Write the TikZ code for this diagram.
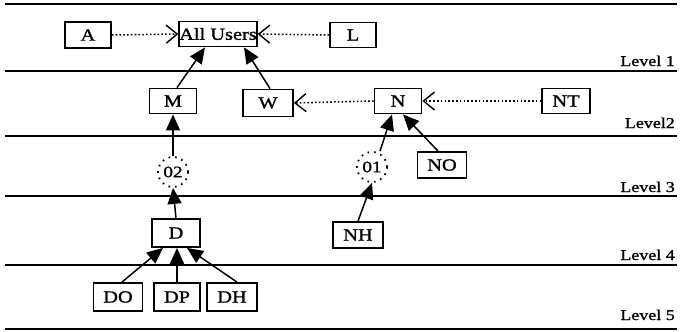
\documentclass[tikz,border=0pt]{standalone}
\usepackage{fontspec}
\setmainfont{Liberation Serif}
\newfontfamily\widefont[FakeStretch=1.2,FakeBold=1.2]{Liberation Serif}
\usetikzlibrary{arrows.meta}
\begin{document}
\begin{tikzpicture}[x=1pt,y=-1pt,
  box/.style={draw,line width=1.8pt,inner sep=0pt,font=\widefont\fontsize{17}{19}\selectfont},
  circ/.style={circle,draw,line width=1.8pt,dash pattern=on 1.6pt off 5pt,minimum size=30pt,inner sep=0pt,font=\widefont\fontsize{16}{18}\selectfont},
  lvl/.style={anchor=base east,inner sep=0pt,font=\widefont\fontsize{15}{17}\selectfont},
  hline/.style={line width=1.8pt},
  solidarr/.style={line width=1.5pt,-{Triangle[length=16pt,width=14pt]}},
  dotarr/.style={line width=1.5pt,dash pattern=on 1.6pt off 2.2pt,-{Straight Barb[length=11pt,width=18pt,line width=1.4pt]}}]
\useasboundingbox (0,0) rectangle (681,332);
% level lines
\coordinate (l0a) at (5,4);   \coordinate (l0b) at (677,4);
\coordinate (l1a) at (5,71);  \coordinate (l1b) at (677,71);
\coordinate (l2a) at (5,136); \coordinate (l2b) at (677,136);
\coordinate (l3a) at (5,196); \coordinate (l3b) at (677,196);
\coordinate (l4a) at (5,265); \coordinate (l4b) at (677,265);
\coordinate (l5a) at (5,329); \coordinate (l5b) at (677,329);
\foreach \i in {0,...,5} \draw[hline] (l\i a) -- (l\i b);
% level labels
\node[lvl] (lv1) at (675,66) {Level 1};
\node[lvl] (lv2) at (675,128) {Level2};
\node[lvl] (lv3) at (675,192) {Level 3};
\node[lvl] (lv4) at (675,260) {Level 4};
\node[lvl] (lv5) at (675,320) {Level 5};
% nodes
\node[box,minimum width=46pt,minimum height=26pt] (A) at (88,35) {A};
\node[box,minimum width=77pt,minimum height=25pt] (AU) at (218,34) {All Users};
\node[box,minimum width=46pt,minimum height=25pt] (L) at (353,35) {L};
\node[box,minimum width=47pt,minimum height=25pt] (M) at (173,101) {M};
\node[box,minimum width=50pt,minimum height=27pt] (W) at (268,103) {W};
\node[box,minimum width=47pt,minimum height=25pt] (N) at (398,101) {N};
\node[box,minimum width=48pt,minimum height=25pt] (NT) at (566,101) {NT};
\node[circ] (O2) at (173,172) {02};
\node[circ] (O1) at (372,167) {01};
\node[box,minimum width=49pt,minimum height=26pt] (NO) at (442,165) {NO};
\node[box,minimum width=50pt,minimum height=26pt] (NH) at (358,235) {NH};
\node[box,minimum width=48pt,minimum height=28pt] (D) at (176,233) {D};
\node[box,minimum width=49pt,minimum height=28pt] (DO) at (118,297) {DO};
\node[box,minimum width=46pt,minimum height=28pt] (DP) at (177,297) {DP};
\node[box,minimum width=50pt,minimum height=28pt] (DH) at (232,297) {DH};
% dotted arrows
\draw[dotarr] (A.east) -- (AU.west);
\draw[dotarr] (L.west) -- (AU.east);
\draw[dotarr] (NT.west) -- (N.east);
\draw[dotarr] (N.west) -- (W.east);
% solid arrows
\draw[solidarr] ([xshift=4pt]M.north) -- ([xshift=-13pt]AU.south);
\draw[solidarr] ([xshift=2pt]W.north) -- ([xshift=26pt]AU.south);
\draw[solidarr] (O2.north) -- (M.south);
\draw[solidarr] (D.north) -- (O2.south);
\draw[solidarr] ([xshift=8pt]O1.north) -- ([xshift=-6pt]N.south);
\draw[solidarr] ([xshift=-4pt]NO.north) -- ([xshift=5pt]N.south);
\draw[solidarr] (NH.north) -- (O1.south);
\draw[solidarr] ([xshift=4pt]DO.north) -- ([xshift=-13pt]D.south);
\draw[solidarr] (DP.north) -- ([xshift=1pt]D.south);
\draw[solidarr] ([xshift=5pt]DH.north) -- ([xshift=11pt]D.south);
\end{tikzpicture}
\end{document}
